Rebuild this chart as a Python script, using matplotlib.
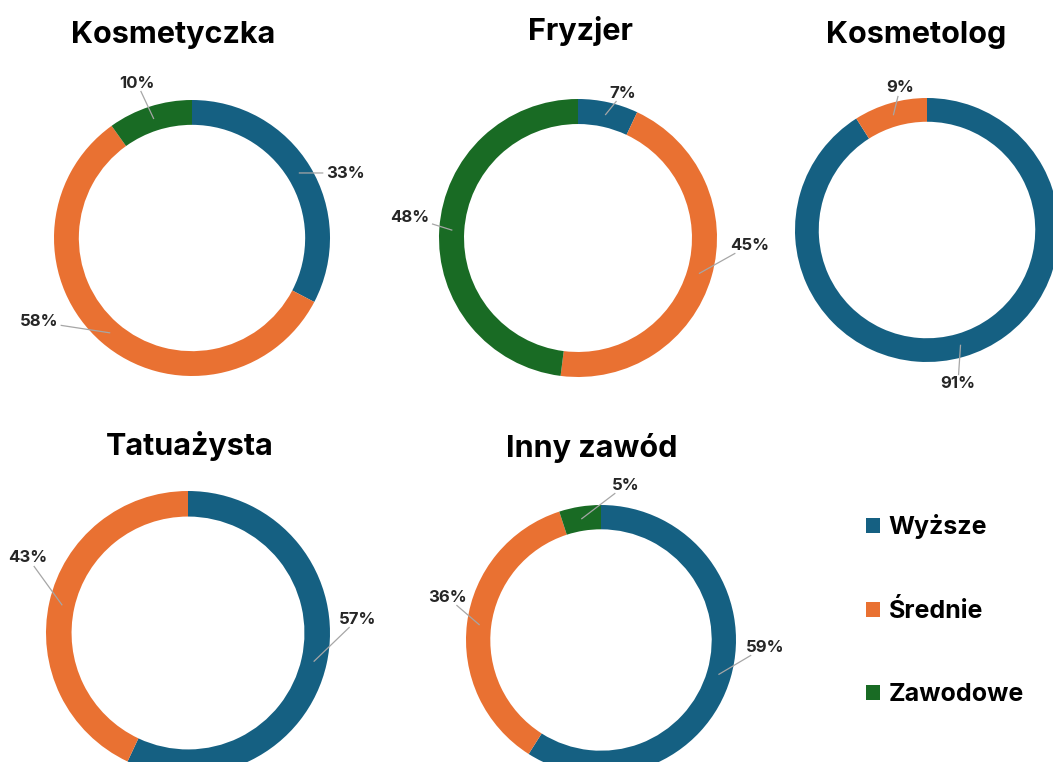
import numpy as np
import matplotlib
matplotlib.use("Agg")
import matplotlib.pyplot as plt
from matplotlib.patches import Patch

plt.rcParams['font.family'] = ['Inter', 'DejaVu Sans']

# ---- data ----
categories = ["Wyższe", "Średnie", "Zawodowe"]
colors = ["#156082", "#E97132", "#196B24"]
titles = ["Kosmetyczka", "Fryzjer", "Kosmetolog", "Tatuażysta", "Inny zawód"]
kosmetyczka = [33, 58, 10]
fryzjer = [7, 45, 48]
kosmetolog = [91, 9, 0]
tatuazysta = [57, 43, 0]
inny = [59, 36, 5]
series = [kosmetyczka, fryzjer, kosmetolog, tatuazysta, inny]

# ---- layout (pixel coordinates, y measured from top) ----
W, H = 1053, 762
centers = [(192, 238), (578, 238), (927, 230), (188, 633), (601, 640)]
radii = [138, 139, 132, 142, 135]
title_pos = [(173, 43), (580, 40), (916, 43), (190, 455), (592, 457)]
# label text centres for each non-zero slice (layout only)
label_pos = [
    [(345, 173), (39, 322), (137, 83)],
    [(623, 93), (750, 245), (410, 217)],
    [(958, 383), (900, 88)],
    [(358, 619), (28, 558)],
    [(765, 647), (447, 597), (626, 485)],
]
ring = 0.18

fig = plt.figure(figsize=(W / 100, H / 100), dpi=100)
ax = fig.add_axes([0, 0, 1, 1])
ax.set_xlim(0, W)
ax.set_ylim(0, H)
ax.set_aspect('equal')
ax.axis('off')

pending = []
for vals, (cx, cy), R, title, (tx, ty), lps in zip(series, centers, radii, titles,
                                                   title_pos, label_pos):
    c = (cx, H - cy)
    ax.pie(vals, colors=colors, startangle=90, counterclock=False,
           center=c, radius=R, frame=True,
           wedgeprops=dict(width=R * ring, linewidth=0))
    ax.text(tx, H - ty, title, ha='center', va='baseline',
            fontsize=22, fontweight='bold', color='black')
    total = float(sum(vals))
    cum = 0.0
    k = 0
    for v in vals:
        if v <= 0:
            continue
        mid = 90 - (cum + v / 2) / total * 360
        cum += v
        t = np.deg2rad(mid)
        p0 = (c[0] + (1 - ring / 2) * R * np.cos(t), c[1] + (1 - ring / 2) * R * np.sin(t))
        lx, ly = lps[k]
        k += 1
        txt = ax.text(lx, H - ly, f"{v}%", ha='center', va='center', fontsize=12,
                      fontweight='bold', color='#262626')
        pending.append((txt, p0))

ax.set_xlim(0, W)
ax.set_ylim(0, H)

fig.canvas.draw()
renderer = fig.canvas.get_renderer()
inv = ax.transData.inverted()
for txt, p0 in pending:
    bb = txt.get_window_extent(renderer)
    (x0, y0), (x1, y1) = inv.transform([[bb.x0 - 3, bb.y0 - 1], [bb.x1 + 3, bb.y1 + 1]])
    cxl, cyl = (x0 + x1) / 2, (y0 + y1) / 2
    dx, dy = p0[0] - cxl, p0[1] - cyl
    # clip the segment from label centre towards p0 at the expanded box
    s = 1.0
    if dx != 0:
        s = min(s, ((x1 - x0) / 2) / abs(dx))
    if dy != 0:
        s = min(s, ((y1 - y0) / 2) / abs(dy))
    pe = (cxl + dx * s, cyl + dy * s)
    ax.plot([p0[0], pe[0]], [p0[1], pe[1]], color='#a6a6a6', lw=0.9)

handles = [Patch(facecolor=col, edgecolor='none') for col in colors]
ax.legend(handles, categories, loc='center left',
          bbox_to_anchor=(866 / W, 1 - 610 / H), bbox_transform=fig.transFigure,
          frameon=False, prop=dict(size=18, weight='bold'),
          handlelength=0.55, handleheight=0.55, handletextpad=0.35,
          labelspacing=2.4, borderpad=0, borderaxespad=0)

fig.savefig("out.png", dpi=100, facecolor='white')
